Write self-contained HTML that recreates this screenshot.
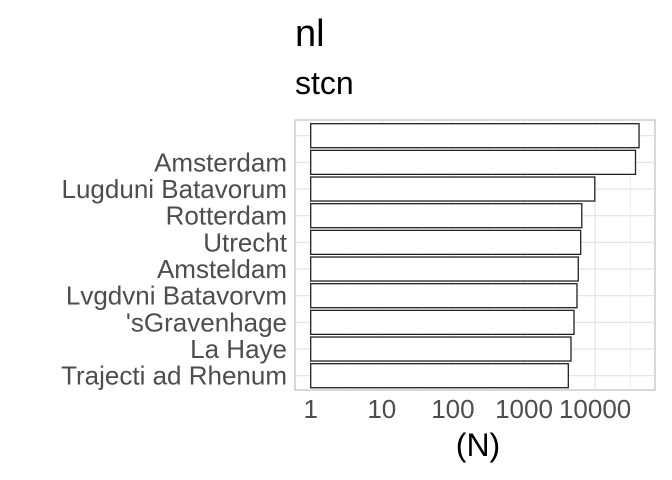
<!DOCTYPE html>
<html><head><meta charset="utf-8"><style>
body{margin:0;background:#fff;}
svg{display:block;font-family:"Liberation Sans",sans-serif;}
</style></head><body>
<svg id="chart" width="672" height="480">
<text x="295" y="46" font-size="38" fill="#000">nl</text>
<text x="295" y="94" font-size="32" fill="#000">stcn</text>
<rect x="295" y="120" width="360" height="270" fill="#fff" stroke="#bfbfbf" stroke-width="1.2"/>
<g id="grid"></g><g id="bars"></g><g id="ylabels"></g><g id="xlabels"></g>
<text x="478" y="456" font-size="32" text-anchor="middle" fill="#000">(N)</text>
</svg>
<script>
const categories=["","Amsterdam","Lugduni Batavorum","Rotterdam","Utrecht","Amsteldam","Lvgdvni Batavorvm","'sGravenhage","La Haye","Trajecti ad Rhenum"];
const values=[41500,37000,9900,6500,6270,5800,5560,5050,4580,4200];
const tickValues=[1,10,100,1000,10000];
const tickLabels=["1","10","100","1000","10000"];
const NS="http://www.w3.org/2000/svg";
const x0=310.7,dec=71.1,pl=295,pr=655,pt=120,pb=390;
const xs=v=>x0+Math.log10(v)*dec;
const step=(pb-pt-30)/(categories.length-1);
const ys=i=>pt+15.7+step*i;
function mk(t,a,p){const e=document.createElementNS(NS,t);for(const k in a)e.setAttribute(k,a[k]);p.appendChild(e);return e;}
const grid=document.getElementById('grid');
for(let d=-0.5;d<=5;d+=0.5){const x=xs(Math.pow(10,d));if(x<pl||x>pr)continue;
const l=mk('line',{x1:x,x2:x,y1:pt,y2:pb,stroke:'#e3e3e3','stroke-width':d%1===0?1.2:0.6},grid);

}
categories.forEach((c,i)=>{const l=mk('line',{x1:pl,x2:pr,y1:ys(i),y2:ys(i),stroke:'#e3e3e3','stroke-width':1.2},grid);

});
const bars=document.getElementById('bars'),yl=document.getElementById('ylabels'),xl=document.getElementById('xlabels');
const bh=step*0.9;
values.forEach((v,i)=>{const r=mk('rect',{x:xs(1),y:ys(i)-bh/2,width:xs(v)-xs(1),height:bh,fill:'#fff',stroke:'#222','stroke-width':1.3},bars);


const t=mk('text',{x:287,y:ys(i)+9,'font-size':26,'text-anchor':'end',fill:'#4d4d4d'},yl);t.textContent=categories[i];

});
tickValues.forEach((v,i)=>{const t=mk('text',{x:xs(v),y:418,'font-size':26,'text-anchor':'middle',fill:'#4d4d4d'},xl);t.textContent=tickLabels[i];

});
</script>
</body></html>
